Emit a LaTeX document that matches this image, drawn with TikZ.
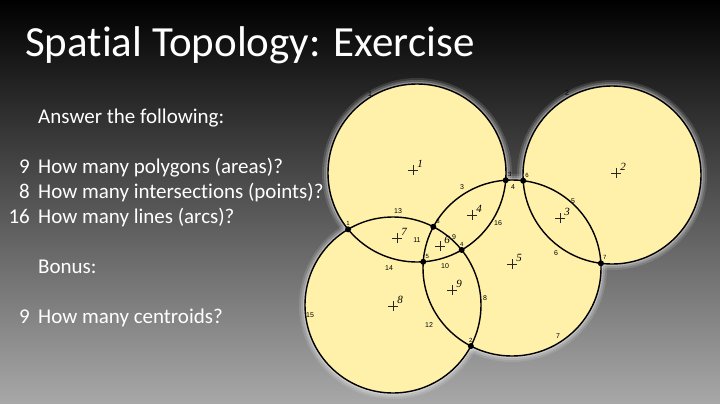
\documentclass[tikz,border=0pt]{standalone}
\usepackage{fontspec}
\setmainfont{Carlito}[Ligatures=NoCommon]
\newfontfamily\arcfont{Liberation Sans}
\newfontfamily\idfont{Liberation Serif}
\usetikzlibrary{intersections}

\definecolor{mapfill}{RGB}{255,241,170}
\definecolor{bgbottom}{RGB}{168,168,168}

\newcommand\nolig{\kern0pt }

\tikzset{
  glow/.style={draw=white, line width=12pt, opacity=0.12},
  midglow/.style={draw=white, line width=8pt, opacity=0.18},
  innerglow/.style={draw=white, line width=4pt, opacity=0.3},
  regionfill/.style={fill=mapfill},
  regionline/.style={draw=black, line width=1.4pt},
  vertex/.style={circle, fill=black, inner sep=0pt, minimum size=6pt},
  vertexlabel/.style={font=\arcfont\fontsize{6}{6}\selectfont, inner sep=0.5pt},
  arclabel/.style={font=\arcfont\fontsize{7}{7}\selectfont, inner sep=0pt},
  crosshair/.style={draw=black!85, line width=0.9pt},
  centroidlabel/.style={font=\idfont\itshape\fontsize{11}{11}\selectfont, inner sep=0pt},
  slidetext/.style={text=white, anchor=base west, inner sep=0pt, font=\fontsize{21}{21}\selectfont},
  slidenum/.style={text=white, anchor=base east, inner sep=0pt, font=\fontsize{21}{21}\selectfont}
}

\begin{document}
\begin{tikzpicture}[x=1pt,y=-1pt]
  % background
  \shade[top color=black, bottom color=bgbottom] (0,0) rectangle (720,404);
  \useasboundingbox (0,0) rectangle (720,404);

  % title and questions
  \node[slidetext, font=\fontsize{43}{43}\selectfont] (title) at (25,57) {Spat\nolig ial Topology: Exercise};
  \node[slidetext] (intro) at (38,123) {Answer the following:};
  \node[slidenum] (n1) at (30,173) {9};
  \node[slidetext] (q1) at (38,173) {How many polygons (areas)?};
  \node[slidenum] (n2) at (30,198) {8};
  \node[slidetext] (q2) at (38,198) {How many intersect\nolig ions (points)?};
  \node[slidenum] (n3) at (30,223) {16};
  \node[slidetext] (q3) at (38,223) {How many lines (arcs)?};
  \node[slidetext] (bonus) at (38,273) {Bonus:};
  \node[slidenum] (n4) at (30,323) {9};
  \node[slidetext] (q4) at (38,323) {How many centroids?};

  % circles: name/x/y/rx/ry
  \def \Regions{
    A/417/173/89/89,
    B/612/175/89/89,
    C/393/305/88/88,
    D/512/268/89/88}
  \foreach \id / \x / \y / \rx / \ry in \Regions{
    \path[glow] (\x,\y) ellipse[x radius=\rx, y radius=\ry];
    \path[midglow] (\x,\y) ellipse[x radius=\rx, y radius=\ry];
    \path[innerglow] (\x,\y) ellipse[x radius=\rx, y radius=\ry];
  }
  \foreach \id / \x / \y / \rx / \ry in \Regions{
    \path[regionfill] (\x,\y) ellipse[x radius=\rx, y radius=\ry];
  }
  \foreach \id / \x / \y / \rx / \ry in \Regions{
    \path[regionline, name path global=\id] (\x,\y) ellipse[x radius=\rx, y radius=\ry];
  }

  % intersections
  \path[name intersections={of=A and C, name=ac}];
  \path[name intersections={of=C and D, name=cd}];
  \path[name intersections={of=A and D, name=ad}];
  \path[name intersections={of=B and D, name=bd}];
  \def \Vertices{
    1/ac-2/90,
    2/cd-1/90,
    3/ad-2/60,
    4/ac-1/90,
    5/ad-1/60,
    6/bd-1/60,
    7/bd-2/60,
    8/cd-2/45}
  \foreach \id / \pt / \ang in \Vertices{
    \node[vertex, label={[vertexlabel]\ang:\id}] (v\id) at (\pt) {};
  }

  % arc labels
  \def \Arcs{
    1/370/94, 2/567/93, 3/462/187, 4/513/187,
    5/573/201, 6/556/253, 7/558/336, 8/485/298,
    9/454/237, 10/445/266, 11/417/240, 12/429/325,
    13/398/211, 14/389/268, 15/310/315, 16/498/223}
  \foreach \id / \x / \y in \Arcs{
    \node[arclabel] (a\id) at (\x,\y) {\id};
  }

  % centroids
  \def \Centroids{
    1/413/170, 2/616/173, 3/560/218,
    4/472/215, 5/512/264, 6/440/246,
    7/397/238, 8/393/306, 9/452/290}
  \foreach \id / \x / \y in \Centroids{
    \coordinate (c\id) at (\x,\y);
    \path[crosshair] ([xshift=-5pt]c\id) -- ([xshift=5pt]c\id)
      ([yshift=-5pt]c\id) -- ([yshift=5pt]c\id);
    \node[centroidlabel] (l\id) at ([xshift=7pt,yshift=6pt]c\id) {\id};
  }
\end{tikzpicture}
\end{document}
